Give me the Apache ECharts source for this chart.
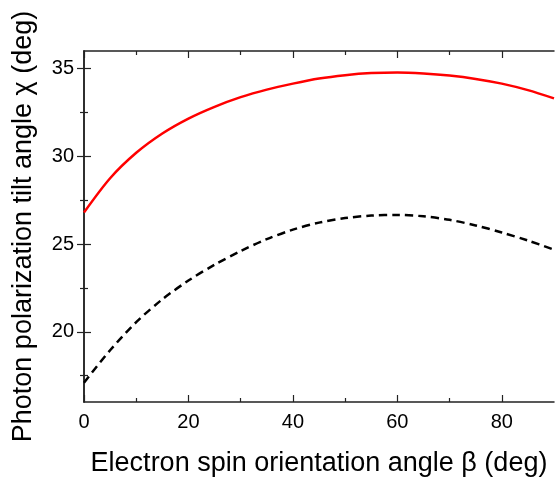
<!DOCTYPE html>
<html>
<head>
<meta charset="utf-8">
<script src="https://cdn.jsdelivr.net/npm/echarts@6/dist/echarts.min.js"></script>
<style>
  html, body { margin: 0; padding: 0; background: #fff; }
  #chart { width: 555px; height: 479px; }
</style>
</head>
<body>
<div id="chart"></div>
<script>
  // electron spin orientation angle beta (deg)
  let beta = [0, 5, 10, 15, 20, 25, 30, 35, 40, 45, 50, 55, 60, 65, 70, 75, 80, 85, 90];
  // red solid curve
  let chiRed = [26.8, 28.75, 30.2, 31.3, 32.15, 32.82, 33.37, 33.8, 34.14, 34.43, 34.62, 34.74, 34.78, 34.72, 34.6, 34.41, 34.14, 33.77, 33.3];
  // black dashed curve
  let chiBlack = [17.1, 18.95, 20.55, 21.85, 22.92, 23.82, 24.6, 25.28, 25.82, 26.22, 26.48, 26.62, 26.66, 26.58, 26.38, 26.06, 25.66, 25.2, 24.68];

  let xMajor = [0, 20, 40, 60, 80];
  let xMinor = [10, 30, 50, 70];
  let yMajor = [20, 25, 30, 35];
  let yMinor = [17.5, 22.5, 27.5, 32.5];

  let font = 'Liberation Sans, Arial, sans-serif';
  let lineCol = '#222';

  function pairs(xs, ys) {
    return xs.map((x, i) => [x, ys[i]]);
  }

  function xAx(pos, ticks, len, labels, line) {
    return {
      type: 'value', position: pos, min: 0, max: 90,
      splitLine: { show: false },
      axisLine: { show: line, lineStyle: { color: lineCol, width: 1.5 } },
      axisTick: { show: true, inside: true, length: len, customValues: ticks,
        lineStyle: { color: lineCol, width: 1.2 } },
      axisLabel: { show: labels, customValues: xMajor, margin: 10,
        color: '#000', fontSize: 20, fontFamily: font }
    };
  }

  function yAx(pos, ticks, len, labels, line) {
    return {
      type: 'value', position: pos, min: 16, max: 36,
      splitLine: { show: false },
      axisLine: { show: line, lineStyle: { color: lineCol, width: 1.5 } },
      axisTick: { show: true, inside: true, length: len, customValues: ticks,
        lineStyle: { color: lineCol, width: 1.2 } },
      axisLabel: { show: labels, customValues: yMajor, margin: 10,
        color: '#000', fontSize: 20, fontFamily: font }
    };
  }

  let xMain = xAx('bottom', xMajor, 7, true, true);
  xMain.name = 'Electron spin orientation angle \u03b2 (deg)';
  xMain.nameLocation = 'middle';
  xMain.nameGap = 48;
  xMain.nameTextStyle = { color: '#000', fontSize: 27, fontFamily: font };

  let yMain = yAx('left', yMajor, 7, true, true);
  yMain.name = 'Photon polarization tilt angle \u03c7 (deg)';
  yMain.nameLocation = 'middle';
  yMain.nameGap = 47;
  yMain.nameTextStyle = { color: '#000', fontSize: 27, fontFamily: font };

  let chart = echarts.init(document.getElementById('chart'));
  chart.setOption({
    animation: false,
    grid: { left: 84, right: 1, top: 51, bottom: 77, outerBoundsMode: 'none' },
    xAxis: [
      xMain,
      xAx('bottom', xMinor, 4, false, false),
      xAx('top', xMajor, 7, false, true),
      xAx('top', xMinor, 4, false, false)
    ],
    yAxis: [
      yMain,
      yAx('left', yMinor, 4, false, false),
      yAx('right', yMajor, 7, false, true),
      yAx('right', yMinor, 4, false, false)
    ],
    series: [
      {
        name: 'red', type: 'line', xAxisIndex: 0, yAxisIndex: 0,
        data: pairs(beta, chiRed), smooth: 0.3, showSymbol: false,
        lineStyle: { color: '#ff0000', width: 2.5 }
      },
      {
        name: 'black', type: 'line', xAxisIndex: 0, yAxisIndex: 0,
        data: pairs(beta, chiBlack), smooth: 0.3, showSymbol: false,
        lineStyle: { color: '#000', width: 2.5, type: [8, 5] }
      }
    ]
  });
</script>
</body>
</html>
